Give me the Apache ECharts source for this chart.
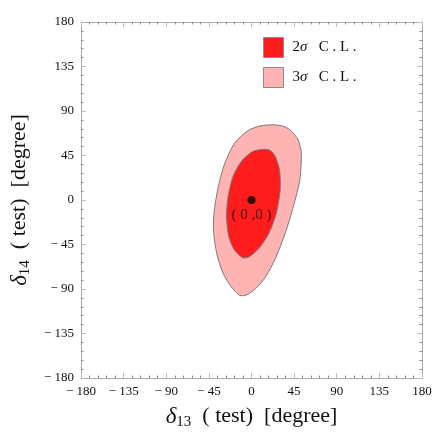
<!DOCTYPE html>
<html><head><meta charset="utf-8">
<script src="https://cdn.jsdelivr.net/npm/echarts@6/dist/echarts.min.js"></script>
<style>html,body{margin:0;padding:0;background:#fff}#c{width:436px;height:436px}</style>
</head><body><div id="c"></div>
<script>
// ---- data ----
const tickValues = [-180, -135, -90, -45, 0, 45, 90, 135, 180];
const seriesNames = ['2σ C.L.', '3σ C.L.'];
// 3 sigma contour (delta13, delta14) in degrees
const contour3sigma = [[9.7,75],[23.4,76],[32,75],[40.7,70.9],[49.2,60.8],[52.6,47.3],[51,20.3],[44.1,-6.8],[35.5,-33.8],[25.2,-59.1],[14.9,-77.7],[4.5,-89.5],[-5.8,-96.3],[-12.7,-96.3],[-21.3,-87.8],[-29.9,-74.3],[-36.7,-54],[-40.2,-30.4],[-39.2,-10],[-35,13.5],[-28.2,37],[-17.9,57.4],[-4,70]];
// 2 sigma contour
const contour2sigma = [[1,49],[13.1,51.3],[20,50],[25.2,43.9],[29.6,30.4],[30.3,10.1],[26.2,-13.5],[18.3,-33.8],[7.9,-48.9],[-2.4,-57.4],[-9.3,-58.4],[-17.9,-50.7],[-24,-37.2],[-26.4,-16.9],[-24.7,3.4],[-19.6,23.6],[-10.9,38.8]];
const bestFit = [[0, 0]];
const bestFitLabel = '( 0 ,0 )';

const FONT = 'Liberation Serif';
const colors = { s2: '#ff1c1c', s3: '#ffb3b3', edge: '#7a7a7a' };

function polySeries(name, pts, fill) {
  return {
    type: 'custom', name: name,
    coordinateSystem: 'cartesian2d',
    data: pts,
    itemStyle: { color: fill },
    encode: { x: 0, y: 1 },
    silent: true,
    renderItem: function (params, api) {
      if (params.dataIndex !== 0) return null;
      const points = pts.map(p => api.coord(p));
      return {
        type: 'polygon',
        shape: { points: points, smooth: 0.25 },
        style: { fill: fill, stroke: colors.edge, lineWidth: 1 }
      };
    }
  };
}

function fmt(v) { return v < 0 ? '\u2212 ' + (-v) : '' + v; }

function axisCommon(showLabel) {
  return {
    type: 'value', min: -180, max: 180, interval: 45,
    axisLine: { show: true, onZero: false, lineStyle: { color: '#a8a8a8', width: 1 } },
    axisTick: { show: true, inside: true, length: 5, lineStyle: { color: '#bdbdbd' } },
    minorTick: { show: true, splitNumber: 5, length: 2.5, lineStyle: { color: '#8a8a8a' } },
    splitLine: { show: false },
    axisLabel: { show: showLabel, formatter: fmt, fontFamily: FONT, fontSize: 13, color: '#111', margin: 7 }
  };
}

const nameRich = {
  d: { fontFamily: FONT, fontStyle: 'italic', fontSize: 23, color: '#111' },
  s: { fontFamily: FONT, fontSize: 15, color: '#111', verticalAlign: 'bottom', padding: [12, 0, 0, 0] },
  n: { fontFamily: FONT, fontSize: 22, color: '#111' }
};

const chart = echarts.init(document.getElementById('c'), null, { renderer: 'canvas' });
chart.setOption({
  animation: false,
  backgroundColor: '#fff',
  grid: { left: 73, right: 14, top: 22, bottom: 58, containLabel: false },
  xAxis: [
    Object.assign(axisCommon(true), {
      position: 'bottom',
      name: '{d|δ}{s|13}{n|  ( test)  [degree]}',
      nameLocation: 'middle', nameGap: 25,
      nameTextStyle: { rich: nameRich }
    }),
    Object.assign(axisCommon(false), { position: 'top' })
  ],
  yAxis: [
    Object.assign(axisCommon(true), {
      position: 'left',
      name: '{d|δ}{s|14}{n|  ( test)  [degree]}',
      nameLocation: 'middle', nameGap: 42,
      nameTextStyle: { rich: nameRich }
    }),
    Object.assign(axisCommon(false), { position: 'right' })
  ],
  legend: {
    orient: 'vertical', left: 263, top: 37, padding: 0,
    itemWidth: 20, itemHeight: 20, itemGap: 9,
    textStyle: { fontFamily: FONT, fontSize: 15, color: '#111', padding: [0, 0, 0, 4],
      rich: { g: { fontFamily: FONT, fontSize: 15, fontStyle: 'italic', color: '#111' },
              t: { fontFamily: FONT, fontSize: 15, color: '#111' } } },
    formatter: function (n) { return (n === seriesNames[0] ? '{t|2}' : '{t|3}') + '{g|σ}{t|   C . L .}'; },
    data: [
      { name: seriesNames[0], icon: 'rect', itemStyle: { color: colors.s2, borderColor: '#8a8a8a', borderWidth: 1 } },
      { name: seriesNames[1], icon: 'rect', itemStyle: { color: colors.s3, borderColor: '#8a8a8a', borderWidth: 1 } }
    ]
  },
  series: [
    polySeries(seriesNames[1], contour3sigma, colors.s3),
    polySeries(seriesNames[0], contour2sigma, colors.s2),
    {
      type: 'scatter', data: bestFit, symbol: 'circle', symbolSize: 8,
      itemStyle: { color: '#000' }, silent: true,
      label: { show: true, position: 'bottom', distance: 4, formatter: bestFitLabel,
        fontFamily: FONT, fontSize: 15, color: '#111' }
    }
  ]
});
</script>
</body></html>
